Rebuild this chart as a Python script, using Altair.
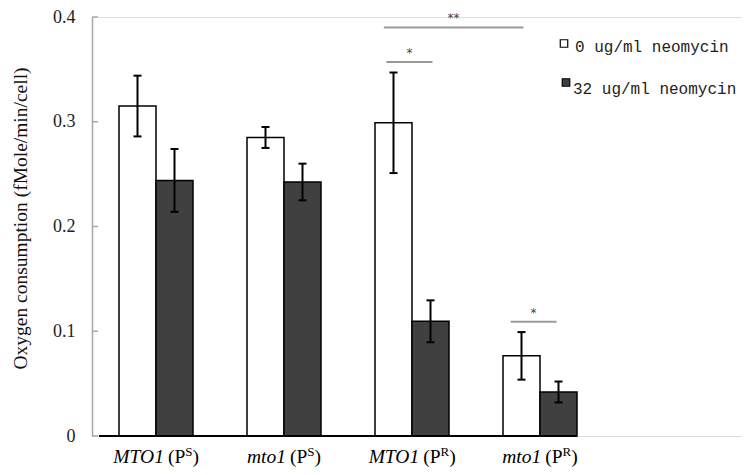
import altair as alt
import pandas as pd

# ---- data ----
groups_italic = ["MTO1", "mto1", "MTO1", "mto1"]
groups_open = ["(P", "(P", "(P", "(P"]
groups_sup = ["S", "S", "R", "R"]
groups_close = [")", ")", ")", ")"]
series = ["0 ug/ml neomycin", "32 ug/ml neomycin"]
mean_0 = [0.315, 0.285, 0.299, 0.0765]
mean_32 = [0.244, 0.2425, 0.1095, 0.042]
err_0 = [0.029, 0.010, 0.048, 0.0227]
err_32 = [0.030, 0.0175, 0.020, 0.010]
y_ticks = [0, 0.1, 0.2, 0.3, 0.4]

# significance brackets
sig_x1 = [2.78, 2.80, 3.77]
sig_x2 = [3.87, 3.16, 4.13]
sig_y = [0.390, 0.357, 0.109]
sig_label = ["**", "*", "*"]

# ---- layout constants ----
PX_PER_UNIT = 128.0
BAR_W = 37 / PX_PER_UNIT
CAP_HALF = 4 / PX_PER_UNIT
X_DOMAIN = [0.5, 0.5 + 650 / PX_PER_UNIT]
SERIF = "Liberation Serif"
LABEL_SIZE = 19.5
SUP_SIZE = 13
LABEL_Y = 446

rows = []
for gi in range(4):
    g = gi + 1
    for si, (m, e) in enumerate([(mean_0[gi], err_0[gi]), (mean_32[gi], err_32[gi])]):
        x0 = g - BAR_W if si == 0 else g
        rows.append(dict(series=series[si], x=x0, x2=x0 + BAR_W, cx=x0 + BAR_W / 2,
                         value=m, lo=m - e, hi=m + e))
bars_df = pd.DataFrame(rows)
caps_df = pd.concat([
    bars_df.assign(cap=bars_df["lo"]),
    bars_df.assign(cap=bars_df["hi"]),
])
caps_df["c1"] = caps_df["cx"] - CAP_HALF
caps_df["c2"] = caps_df["cx"] + CAP_HALF

# approximate glyph widths (em, Times-like) to lay out the multi-part labels
W_IT = {"M": .833, "T": .556, "O": .722, "1": .5, "m": .722, "t": .278, "o": .5}
W_NO = {"(": .333, ")": .333, "P": .556, "S": .556, "R": .667}
def width(s, table, size):
    return sum(table.get(c, .5) for c in s) * size

GAP = 4
lab_rows = []
for gi in range(4):
    wi = width(groups_italic[gi], W_IT, LABEL_SIZE)
    wo = width(groups_open[gi], W_NO, LABEL_SIZE)
    ws = width(groups_sup[gi], W_NO, SUP_SIZE)
    wc = width(groups_close[gi], W_NO, LABEL_SIZE)
    total = wi + GAP + wo + ws + wc
    left_px = -total / 2
    split_px = left_px + wi + GAP / 2
    c = gi + 1
    lab_rows.append(dict(
        it=groups_italic[gi], op=groups_open[gi], sup=groups_sup[gi], cl=groups_close[gi],
        x_it=c + (split_px - GAP / 2) / PX_PER_UNIT,
        x_op=c + (split_px + GAP / 2) / PX_PER_UNIT,
        x_sup=c + (split_px + GAP / 2 + wo) / PX_PER_UNIT,
        x_cl=c + (split_px + GAP / 2 + wo + ws) / PX_PER_UNIT,
    ))
lab_df = pd.DataFrame(lab_rows)

sig_df = pd.DataFrame(dict(x1=sig_x1, x2=sig_x2, y=sig_y, label=sig_label))
sig_df["xm"] = (sig_df["x1"] + sig_df["x2"]) / 2

axis_df = pd.DataFrame(dict(a=[1 - BAR_W - 20 / PX_PER_UNIT], b=[4 + BAR_W], y=[0.0]))
ticks_df = pd.DataFrame(dict(t=y_ticks))

xs = alt.Scale(domain=X_DOMAIN, nice=False, zero=False)
ys = alt.Scale(domain=[0, 0.4], nice=False, zero=False)

y_axis = alt.Axis(
    values=y_ticks, ticks=False, grid=False,
    domainColor="#a8a8a8", domainWidth=1.5,
    labelFont=SERIF, labelFontSize=18, labelColor="#222222", labelPadding=17,
    labelExpr="datum.value == 0 ? '0' : format(datum.value, '.1f')",
    title="Oxygen consumption (fMole/min/cell)",
    titleFont=SERIF, titleFontSize=19.5, titleFontWeight="normal", titleColor="#111111",
    titleX=-72, titleY=201, titleAngle=270, titleAlign="center", titleBaseline="middle",
)

bars = alt.Chart(bars_df).mark_rect(stroke="black", strokeWidth=1.5).encode(
    x=alt.X("x:Q", scale=xs, axis=None),
    x2="x2:Q",
    y=alt.Y("value:Q", scale=ys, axis=y_axis),
    y2=alt.datum(0),
    fill=alt.Fill("series:N", scale=alt.Scale(domain=series, range=["#ffffff", "#404040"]), legend=None),
)

err = alt.Chart(bars_df).mark_rule(color="black", strokeWidth=2).encode(
    x=alt.X("cx:Q", scale=xs), y=alt.Y("lo:Q", scale=ys), y2="hi:Q")
caps = alt.Chart(caps_df).mark_rule(color="black", strokeWidth=2).encode(
    x=alt.X("c1:Q", scale=xs), x2="c2:Q", y=alt.Y("cap:Q", scale=ys))

xaxis_line = alt.Chart(axis_df).mark_rule(color="black", strokeWidth=2).encode(
    x=alt.X("a:Q", scale=xs), x2="b:Q", y=alt.Y("y:Q", scale=ys))

yticks = alt.Chart(ticks_df).mark_rule(color="#a8a8a8", strokeWidth=1.5).encode(
    x=alt.value(0), x2=alt.value(6), y=alt.Y("t:Q", scale=ys))

sig_lines = alt.Chart(sig_df).mark_rule(color="#9a9a9a", strokeWidth=2).encode(
    x=alt.X("x1:Q", scale=xs), x2="x2:Q", y=alt.Y("y:Q", scale=ys))
sig_text = alt.Chart(sig_df).mark_text(
    font="DejaVu Sans", fontSize=12, color="#444444", baseline="middle", dy=-9
).encode(x=alt.X("xm:Q", scale=xs), y=alt.Y("y:Q", scale=ys), text="label:N")

def label_part(field, xfield, align, size, italic=False, dy=0):
    kw = dict(font=SERIF, fontSize=size, align=align, baseline="alphabetic", color="black", dy=dy)
    if italic:
        kw["fontStyle"] = "italic"
    return alt.Chart(lab_df).mark_text(**kw).encode(
        x=alt.X(f"{xfield}:Q", scale=xs), y=alt.value(LABEL_Y), text=f"{field}:N")

lab_it = label_part("it", "x_it", "right", LABEL_SIZE, italic=True)
lab_op = label_part("op", "x_op", "left", LABEL_SIZE)
lab_sup = label_part("sup", "x_sup", "left", SUP_SIZE, dy=-7)
lab_cl = label_part("cl", "x_cl", "left", LABEL_SIZE)

legend_layers = []
leg_pos = [(472, 26.5, 483, 34.7), (474, 65.5, 481, 77)]
fills = ["#ffffff", "#404040"]
for i in range(2):
    ldf = pd.DataFrame(dict(label=[series[i]]))
    sx, sy, tx, ty = leg_pos[i]
    legend_layers.append(alt.Chart(ldf).mark_square(
        size=56, fill=fills[i], fillOpacity=1, stroke="black", strokeWidth=1.2
    ).encode(x=alt.value(sx), y=alt.value(sy)))
    legend_layers.append(alt.Chart(ldf).mark_text(
        font="Liberation Mono", fontSize=16, align="left", baseline="alphabetic", color="#222222"
    ).encode(x=alt.value(tx), y=alt.value(ty), text="label:N"))

chart = alt.layer(
    bars, err, caps, xaxis_line, yticks, sig_lines, sig_text,
    lab_it, lab_op, lab_sup, lab_cl, *legend_layers
).properties(
    width=650, height=419,
    autosize=alt.AutoSizeParams(type="none"),
    padding={"left": 84, "top": 9, "right": 0, "bottom": 39},
).configure_view(stroke=None).configure(background="white")

chart.save("out.html", embed_options={"renderer": "svg", "actions": False})
